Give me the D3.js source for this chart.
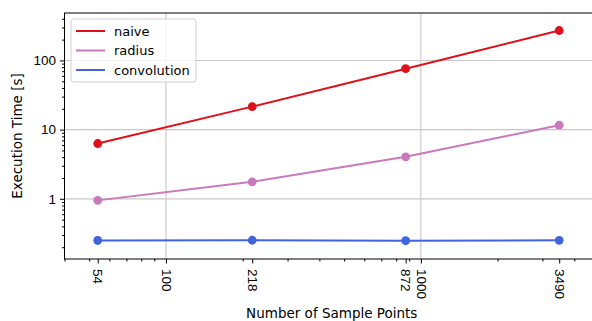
<!DOCTYPE html>
<html>
<head>
<meta charset="utf-8">
<script src="https://cdnjs.cloudflare.com/ajax/libs/d3/7.8.5/d3.min.js"></script>
<style>
  body { margin: 0; background: #fff; }
  svg { display: block; font-family: "DejaVu Sans", sans-serif; }
</style>
</head>
<body>
<svg id="chart" width="592" height="321"></svg>
<script>
// data
var samplePoints = [54, 218, 872, 3490];
var naive = [6.3, 21.5, 76, 271];
var radius = [0.95, 1.76, 4.05, 11.6];
var convolution = [0.25, 0.252, 0.248, 0.251];

var seriesNames = ["naive", "radius", "convolution"];
var seriesValues = [naive, radius, convolution];
var seriesColors = ["#e0101a", "#c979bd", "#4163dd"];

var xTickValues = [54, 100, 218, 872, 1000, 3490];
var yTickValues = [1, 10, 100];

var svg = d3.select("#chart");

// plot box (right side runs past the window, as in the original)
var plotLeft = 64.5, plotRight = 599, plotTop = 13, plotBottom = 259;

var x = d3.scaleLog().domain([40, 5000]).range([plotLeft, plotRight]);
var y = d3.scaleLog().domain([0.135, 485]).range([plotBottom, plotTop]);

// minor tick values for each decade
function minors(lo, hi){
    var out = [];
    for(var p = Math.floor(Math.log10(lo)); p <= Math.ceil(Math.log10(hi)); p++){
        for(var m = 2; m < 10; m++){
            var v = m * Math.pow(10, p);
            if(v >= lo && v <= hi) out.push(v);
        }
    }
    return out;
}

// grid
var grid = svg.append("g").attr("stroke", "#c8c8c8").attr("stroke-width", 1.1);
[100, 1000].forEach(function(v){
    grid.append("line").attr("x1", x(v)).attr("x2", x(v)).attr("y1", plotTop).attr("y2", plotBottom);
});
yTickValues.forEach(function(v){
    grid.append("line").attr("x1", plotLeft).attr("x2", plotRight).attr("y1", y(v)).attr("y2", y(v));
});

// x axis
var xAxis = d3.axisBottom(x).tickValues(xTickValues).tickFormat(d3.format("d")).tickSize(4.5).tickPadding(5);
var xMinor = d3.axisBottom(x).tickValues(minors(40, 5000).filter(function(v){ return v !== 1000 && v !== 100; }))
    .tickFormat("").tickSize(2.5);

var gxm = svg.append("g").attr("transform", "translate(0," + plotBottom + ")").call(xMinor);
gxm.select(".domain").remove();

var gx = svg.append("g").attr("transform", "translate(0," + plotBottom + ")").call(xAxis);
gx.select(".domain").remove();
gx.selectAll("text")
    .attr("font-size", 13.5)
    .attr("fill", "#000")
    .attr("text-anchor", "start")
    .attr("transform", "rotate(90)")
    .attr("x", 10)
    .attr("y", 0)
    .attr("dy", "0.35em");

// y axis
var yAxis = d3.axisLeft(y).tickValues(yTickValues).tickFormat(d3.format("d")).tickSize(4.5).tickPadding(4);
var yMinor = d3.axisLeft(y).tickValues(minors(0.135, 485)).tickFormat("").tickSize(2.5);

var gym = svg.append("g").attr("transform", "translate(" + plotLeft + ",0)").call(yMinor);
gym.select(".domain").remove();

var gy = svg.append("g").attr("transform", "translate(" + plotLeft + ",0)").call(yAxis);
gy.select(".domain").remove();
gy.selectAll("text").attr("font-size", 13.5).attr("fill", "#000");

svg.selectAll(".tick line").attr("stroke", "#000").attr("stroke-width", 1);

// spines
svg.append("rect")
    .attr("x", plotLeft).attr("y", plotTop)
    .attr("width", plotRight - plotLeft).attr("height", plotBottom - plotTop)
    .attr("fill", "none").attr("stroke", "#000").attr("stroke-width", 1);

// series
var line = d3.line()
    .x(function(d, i){ return x(samplePoints[i]); })
    .y(function(d){ return y(d); });

seriesValues.forEach(function(vals, k){
    var g = svg.append("g");
    g.append("path")
        .attr("d", line(vals))
        .attr("fill", "none")
        .attr("stroke", seriesColors[k])
        .attr("stroke-width", 2);
    g.selectAll("circle").data(vals).enter().append("circle")
        .attr("cx", function(d, i){ return x(samplePoints[i]); })
        .attr("cy", function(d){ return y(d); })
        .attr("r", 4.4)
        .attr("fill", seriesColors[k]);
});

// legend
var legend = svg.append("g").attr("transform", "translate(71,19)");
legend.append("rect")
    .attr("width", 125).attr("height", 63).attr("rx", 3)
    .attr("fill", "#fff").attr("fill-opacity", 0.8)
    .attr("stroke", "#d0d0d0").attr("stroke-width", 1);

seriesNames.forEach(function(name, k){
    var ly = 12 + k * 19.5;
    legend.append("line")
        .attr("x1", 5).attr("x2", 34).attr("y1", ly).attr("y2", ly)
        .attr("stroke", seriesColors[k]).attr("stroke-width", 2);
    legend.append("text")
        .attr("x", 43).attr("y", ly).attr("dy", "0.35em")
        .attr("font-size", 13)
        .text(name);
});

// axis labels
svg.append("text")
    .attr("x", (plotLeft + plotRight) / 2).attr("y", 318)
    .attr("text-anchor", "middle")
    .attr("font-size", 13.5)
    .text("Number of Sample Points");

svg.append("text")
    .attr("transform", "translate(22," + ((plotTop + plotBottom) / 2) + ") rotate(-90)")
    .attr("text-anchor", "middle")
    .attr("font-size", 13.5)
    .text("Execution Time [s]");
</script>
</body>
</html>
